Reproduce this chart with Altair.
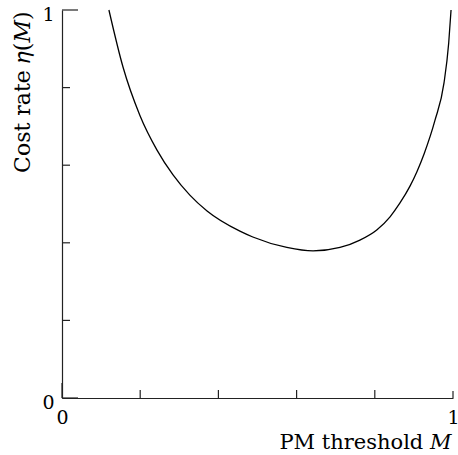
import altair as alt
import pandas as pd

# PM threshold M and cost rate eta(M)
m_vals = [0.120, 0.156, 0.199, 0.243, 0.284, 0.327, 0.371, 0.455, 0.488,
          0.575, 0.642, 0.711, 0.762, 0.805, 0.839, 0.864, 0.890, 0.908, 0.926,
          0.954, 0.977, 0.989, 0.995]
eta_vals = [1.000, 0.853, 0.729, 0.639, 0.575, 0.523, 0.482, 0.430, 0.415,
            0.388, 0.379, 0.388, 0.407, 0.433, 0.467, 0.502, 0.546, 0.584, 0.629,
            0.716, 0.812, 0.915, 1.000]

x_minor = [0.2, 0.4, 0.6, 0.8]
y_minor = [0.2, 0.4, 0.6, 0.8]
axis_labels = [0, 1]

FONT = "DejaVu Serif"
W, H = 391, 388
AX = "#222222"

df = pd.DataFrame({"m": m_vals, "eta": eta_vals})

xscale = alt.Scale(domain=[0, 1], nice=False, zero=False)
yscale = alt.Scale(domain=[0, 1], nice=False, zero=False)

xaxis = alt.Axis(values=axis_labels, tickSize=0, grid=False, domainColor=AX,
                 domainWidth=1.2, labelFont=FONT, labelFontSize=19, labelColor="black",
                 labelPadding=10, labelFlush=False, labelBound=False, format="d",
                 title="PM threshold 𝑀", titleFont=FONT, titleFontSize=21,
                 titleFontWeight="normal", titleColor="black",
                 titleX=W - 2, titleY=50, titleAlign="right", titleBaseline="alphabetic",
                 titleAnchor="end")
yaxis = alt.Axis(values=axis_labels, tickSize=0, grid=False, domainColor=AX,
                 domainWidth=1.2, labelFont=FONT, labelFontSize=19, labelColor="black",
                 labelPadding=8, labelOffset=4, labelBaseline="middle", format="d",
                 labelFlush=False, labelBound=False,
                 title="Cost rate 𝜂(𝑀)", titleFont=FONT, titleFontSize=22,
                 titleFontWeight="normal", titleColor="black",
                 titleX=-40, titleY=1, titleAngle=270, titleAlign="right",
                 titleBaseline="middle", titleAnchor="end")

line = alt.Chart(df).mark_line(color="black", strokeWidth=1.3, interpolate="monotone").encode(
    x=alt.X("m:Q", scale=xscale, axis=xaxis),
    y=alt.Y("eta:Q", scale=yscale, axis=yaxis),
)

xt = alt.Chart(pd.DataFrame({"t": x_minor})).mark_rule(color=AX, strokeWidth=1.2).encode(
    x=alt.X("t:Q", scale=xscale), y=alt.value(H), y2=alt.value(H - 8))
yt = alt.Chart(pd.DataFrame({"t": y_minor})).mark_rule(color=AX, strokeWidth=1.2).encode(
    y=alt.Y("t:Q", scale=yscale), x=alt.value(0), x2=alt.value(8))
x0 = alt.Chart(pd.DataFrame({"t": [0]})).mark_rule(color=AX, strokeWidth=1.2).encode(
    x=alt.X("t:Q", scale=xscale), y=alt.value(H), y2=alt.value(H - 15))
x1 = alt.Chart(pd.DataFrame({"t": [1]})).mark_rule(color=AX, strokeWidth=1.2).encode(
    x=alt.X("t:Q", scale=xscale), y=alt.value(H), y2=alt.value(H - 7))
yends = alt.Chart(pd.DataFrame({"t": [0, 1]})).mark_rule(color=AX, strokeWidth=1.2).encode(
    y=alt.Y("t:Q", scale=yscale), x=alt.value(0), x2=alt.value(16))

chart = alt.layer(line, xt, yt, x0, x1, yends).properties(
    width=W, height=H,
    autosize=alt.AutoSizeParams(type="none"),
    padding={"left": 62, "top": 10, "right": 5, "bottom": 57},
    background="white",
).configure_view(stroke=None)

chart.save("out.html", embed_options={"renderer": "svg", "actions": False})
